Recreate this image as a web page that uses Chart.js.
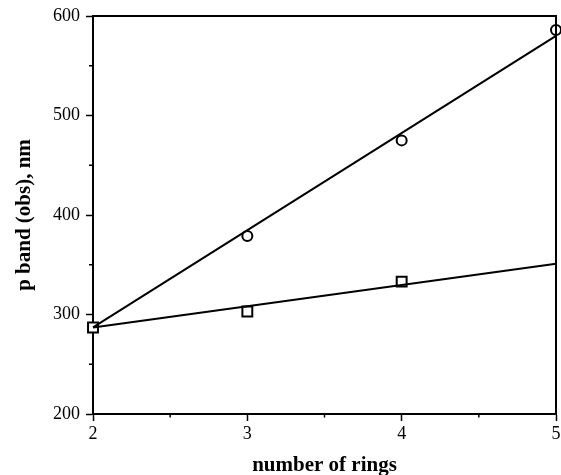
<!DOCTYPE html>
<html>
<head>
<meta charset="utf-8">
<script src="https://cdn.jsdelivr.net/npm/chart.js@4/dist/chart.umd.min.js"></script>
<style>
  html, body { margin: 0; padding: 0; background: #fff; }
  #wrap { width: 561px; height: 475px; }
</style>
</head>
<body>
<div id="wrap"><canvas id="c" width="561" height="475"></canvas></div>
<script>
// number of rings and observed p band positions (nm)
const circleRings = [3, 4, 5];
const circleBand = [379, 475, 586];
const squareRings = [2, 3, 4];
const squareBand = [287, 303, 333];

// straight-line fits through each series
const fitRings = [2, 5];
const circleFit = [287, 580];
const squareFit = [287, 351];

// axis ranges and labelled ticks
const xMin = 2, xMax = 5, xMinorStep = 0.5;
const yMin = 200, yMax = 600, yMinorStep = 50;
const xTickLabels = ['2', '3', '4', '5'];
const yTickLabels = ['200', '300', '400', '500', '600'];

const pts = (xs, ys) => xs.map((x, i) => ({ x: x, y: ys[i] }));

const FONT = "'Liberation Serif', 'DejaVu Serif', serif";

// draw shorter minor ticks and the top/right frame of the plot
const frameAndMinorTicks = {
  id: 'frameAndMinorTicks',
  afterDraw(chart) {
    const { ctx, chartArea: a, scales } = chart;
    ctx.save();
    ctx.strokeStyle = '#000';
    ctx.lineWidth = 2;
    ctx.beginPath();
    ctx.moveTo(a.left, a.top);
    ctx.lineTo(a.right, a.top);
    ctx.lineTo(a.right, a.bottom);
    ctx.stroke();
    ctx.lineWidth = 1.5;
    ctx.beginPath();
    scales.x.ticks.forEach(t => {
      if (!Number.isInteger(t.value)) {
        const px = scales.x.getPixelForValue(t.value);
        ctx.moveTo(px, a.bottom);
        ctx.lineTo(px, a.bottom + 3.5);
      }
    });
    scales.y.ticks.forEach(t => {
      if (t.value % 100 !== 0) {
        const py = scales.y.getPixelForValue(t.value);
        ctx.moveTo(a.left, py);
        ctx.lineTo(a.left - 4, py);
      }
    });
    ctx.stroke();
    ctx.restore();
  }
};

new Chart(document.getElementById('c'), {
  type: 'scatter',
  data: {
    datasets: [
      {
        type: 'line',
        data: pts(fitRings, circleFit),
        borderColor: '#000',
        borderWidth: 2,
        pointRadius: 0,
        fill: false,
        clip: false
      },
      {
        type: 'line',
        data: pts(fitRings, squareFit),
        borderColor: '#000',
        borderWidth: 2,
        pointRadius: 0,
        fill: false,
        clip: false
      },
      {
        data: pts(circleRings, circleBand),
        pointStyle: 'circle',
        pointRadius: 5,
        pointBorderWidth: 2,
        pointBackgroundColor: '#fff',
        pointBorderColor: '#000',
        clip: false
      },
      {
        data: pts(squareRings, squareBand),
        pointStyle: 'rect',
        pointRadius: 7,
        pointBorderWidth: 2,
        pointBackgroundColor: '#fff',
        pointBorderColor: '#000',
        clip: false
      }
    ]
  },
  options: {
    responsive: false,
    animation: false,
    events: [],
    layout: { autoPadding: false, padding: { top: 16, right: 5, left: 0, bottom: 0 } },
    plugins: { legend: { display: false }, tooltip: { enabled: false } },
    scales: {
      x: {
        type: 'linear',
        min: xMin,
        max: xMax,
        afterFit(s) { s.height = 61; s.paddingLeft = 0; s.paddingRight = 0; },
        ticks: {
          stepSize: xMinorStep,
          color: '#000',
          padding: 2,
          maxRotation: 0,
          font: { family: FONT, size: 18 },
          callback: v => Number.isInteger(v) ? xTickLabels[v - xMin] : ''
        },
        grid: {
          drawOnChartArea: false,
          drawTicks: true,
          tickLength: 7,
          tickWidth: 1.5,
          tickColor: c => (c.tick && Number.isInteger(c.tick.value)) ? '#000' : 'rgba(0,0,0,0)'
        },
        border: { display: true, color: '#000', width: 2 },
        title: {
          display: true,
          text: 'number of rings',
          color: '#000',
          padding: { top: 0, bottom: -3 },
          font: { family: FONT, size: 21, weight: 'bold' }
        }
      },
      y: {
        type: 'linear',
        min: yMin,
        max: yMax,
        afterFit(s) { s.width = 93; s.paddingTop = 0; s.paddingBottom = 0; },
        ticks: {
          stepSize: yMinorStep,
          color: '#000',
          padding: 6,
          font: { family: FONT, size: 18 },
          callback: v => v % 100 === 0 ? yTickLabels[(v - yMin) / 100] : ''
        },
        grid: {
          drawOnChartArea: false,
          drawTicks: true,
          tickLength: 7,
          tickWidth: 1.5,
          tickColor: c => (c.tick && c.tick.value % 100 === 0) ? '#000' : 'rgba(0,0,0,0)'
        },
        border: { display: true, color: '#000', width: 2 },
        title: {
          display: true,
          text: 'p band (obs), nm',
          color: '#000',
          padding: { top: 12, bottom: 0 },
          font: { family: FONT, size: 21, weight: 'bold' }
        }
      }
    }
  },
  plugins: [frameAndMinorTicks]
});
</script>
</body>
</html>
